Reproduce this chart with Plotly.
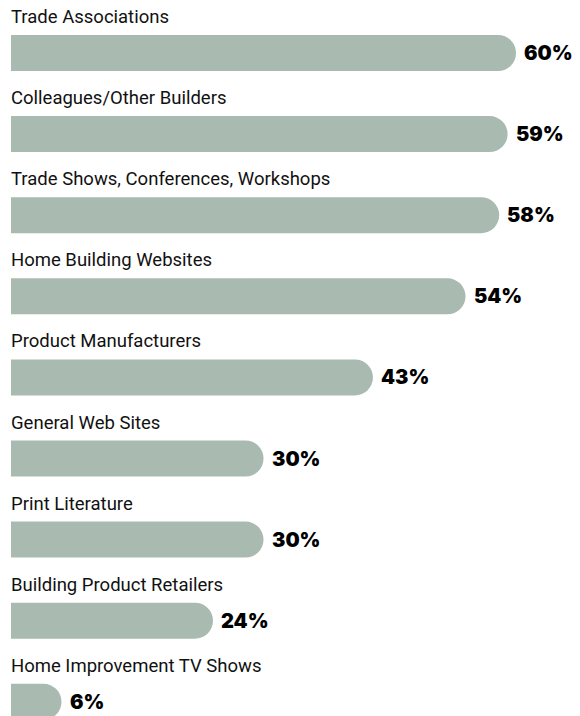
import plotly.graph_objects as go

categories = [
    "Trade Associations",
    "Colleagues/Other Builders",
    "Trade Shows, Conferences, Workshops",
    "Home Building Websites",
    "Product Manufacturers",
    "General Web Sites",
    "Print Literature",
    "Building Product Retailers",
    "Home Improvement TV Shows",
]
values = [60, 59, 58, 54, 43, 30, 30, 24, 6]
value_labels = [f"{v}%" for v in values]

positions = list(range(len(categories)))
bar_color = "#a9bbb0"

fig = go.Figure()
fig.add_trace(go.Bar(
    x=values,
    y=positions,
    orientation="h",
    width=0.444,
    marker=dict(color=bar_color, line=dict(width=0)),
    hoverinfo="skip",
))

label_font = dict(family="Roboto, Liberation Sans Narrow, DejaVu Sans Condensed, sans-serif",
                  size=18.5, color="#111111")
value_font = dict(family="Inter, Roboto, Liberation Sans, sans-serif", size=20,
                  color="#000000", weight=900)

for i, (cat, v, vl) in enumerate(zip(categories, values, value_labels)):
    fig.add_annotation(x=0, y=i, text=cat, showarrow=False, xanchor="left",
                       yanchor="middle", yshift=36, xshift=-2, font=label_font)
    fig.add_annotation(x=v, y=i, text=vl, showarrow=False, xanchor="left",
                       yanchor="middle", xshift=6, font=value_font)

fig.update_layout(
    width=580, height=716,
    margin=dict(l=0, r=0, t=0, b=0),
    paper_bgcolor="white", plot_bgcolor="white",
    barcornerradius=18,
    showlegend=False,
    hovermode=False,
    xaxis=dict(range=[-1.307, 67.6], visible=False, fixedrange=True),
    yaxis=dict(range=[8.175, -0.6535], visible=False, fixedrange=True),
)

fig.write_html("out.html", config={"displayModeBar": False},
               post_script="document.body.style.margin='0';document.body.style.overflow='hidden';")
